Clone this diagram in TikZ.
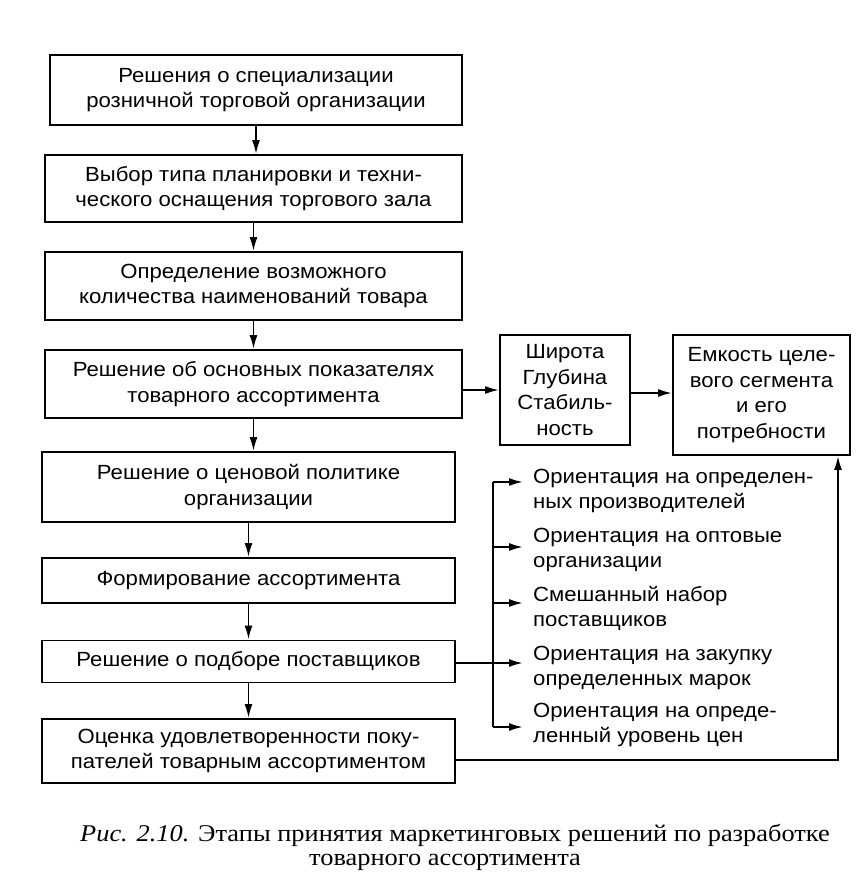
\documentclass[tikz,border=0pt]{standalone}
\usepackage{fontspec}
\setmainfont{Liberation Sans}[FakeStretch=1.08]
\newfontfamily\capfont{Liberation Serif}[FakeStretch=1.1]
\usetikzlibrary{arrows.meta,calc}
\begin{document}
\begin{tikzpicture}[x=1pt,y=-1pt,
  box/.style={draw,line width=1.9pt,align=center,inner sep=0pt,font=\fontsize{20.5}{25.5}\selectfont},
  item/.style={anchor=west,align=left,inner sep=0pt,font=\fontsize{20.5}{25}\selectfont},
  arr/.style={line width=1.9pt,-{Latex[length=14pt,width=8pt]}},
  ln/.style={line width=1.9pt}]
\useasboundingbox (0,0) rectangle (865,895);
\node[box,minimum width=412pt,minimum height=70pt] (b1) at (256,90) {Решения о специализации\\розничной торговой организации};
\node[box,minimum width=417pt,minimum height=67pt] (b2) at (253.5,188.5) {Выбор типа планировки и техни-\\ческого оснащения торгового зала};
\node[box,minimum width=417pt,minimum height=68pt] (b3) at (253.5,286) {Определение возможного\\количества наименований товара};
\node[box,minimum width=417pt,minimum height=68pt] (b4) at (253.5,384) {Решение об основных показателях\\товарного ассортимента};
\node[box,minimum width=413pt,minimum height=70pt] (b5) at (248.5,487) {Решение о ценовой политике\\организации};
\node[box,minimum width=413pt,minimum height=45pt] (b6) at (248.5,580.5) {Формирование ассортимента};
\node[box,minimum width=413pt,minimum height=42pt] (b7) at (248.5,661.5) {Решение о подборе поставщиков};
\node[box,minimum width=413pt,minimum height=64pt] (b8) at (248.5,751) {Оценка удовлетворенности поку-\\пателей товарным ассортиментом};
\node[box,minimum width=130pt,minimum height=110pt] (s1) at (565,390) {Широта\\Глубина\\Стабиль-\\ность};
\node[box,minimum width=177pt,minimum height=120pt] (s2) at (761.5,395) {Емкость целе-\\вого сегмента\\и его\\потребности};
\node[item] (i1) at (533,490.5) {Ориентация на определен-\\ных производителей};
\node[item] (i2) at (533,549.5) {Ориентация на оптовые\\организации};
\node[item] (i3) at (533,608.5) {Смешанный набор\\поставщиков};
\node[item] (i4) at (533,667.5) {Ориентация на закупку\\определенных марок};
\node[item] (i5) at (533,724.5) {Ориентация на опреде-\\ленный уровень цен};
\coordinate (j1) at (493,482);
\coordinate (j2) at (493,547);
\coordinate (j3) at (493,603);
\coordinate (j5) at (493,727);
\coordinate (c8) at (838,760);
\node[font=\capfont\fontsize{24}{28}\selectfont,inner sep=0pt] (cap1) at (455,835) {\textit{Рис. 2.10.} Этапы принятия маркетинговых решений по разработке};
\node[font=\capfont\fontsize{24}{28}\selectfont,inner sep=0pt] (cap2) at (445,862) {товарного ассортимента};
\draw[arr] (b1.south) -- (b1.south |- b2.north);
\draw[arr] (b2.south) -- (b2.south |- b3.north);
\draw[arr] (b3.south) -- (b3.south |- b4.north);
\draw[arr] (b4.south) -- (b4.south |- b5.north);
\draw[arr] (b5.south) -- (b5.south |- b6.north);
\draw[arr] (b6.south) -- (b6.south |- b7.north);
\draw[arr] (b7.south) -- (b7.south |- b8.north);
\draw[arr] (s1.west -| b4.east) -- (s1.west);
\draw[arr] ([yshift=-3pt]s1.east) -- ([yshift=-3pt]s1.east -| s2.west);
\draw[ln] (j1) -- (j5);
\draw[arr,shorten >=10pt] (j1) -- (j1 -| i1.west);
\draw[arr,shorten >=10pt] (j2) -- (j2 -| i2.west);
\draw[arr,shorten >=10pt] (j3) -- (j3 -| i3.west);
\draw[arr,shorten >=10pt] ([yshift=-1.5pt]b7.east) -- ([yshift=-1.5pt]b7.east -| i4.west);
\draw[arr,shorten >=10pt] (j5) -- (j5 -| i5.west);
\draw[arr] ([yshift=-9pt]b8.east) -- (c8) -- (c8 |- s2.south);
\end{tikzpicture}
\end{document}
